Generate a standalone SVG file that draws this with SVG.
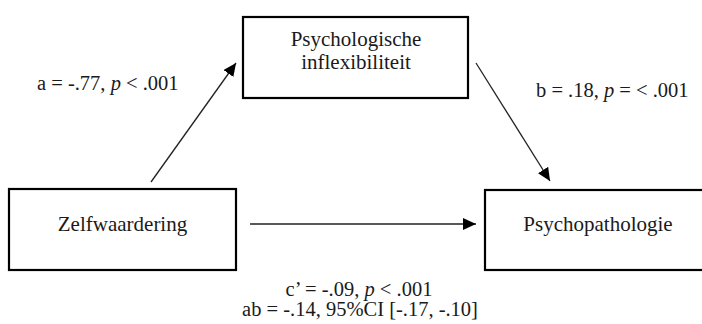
<svg xmlns="http://www.w3.org/2000/svg" width="702" height="324" viewBox="0 0 702 324">
  <style>
    .box { fill: #ffffff; stroke: #000000; stroke-width: 2.2; }
    .node-text { font-family: "Liberation Serif", "Times New Roman", serif; font-size: 21px; fill: #1a1a1a; text-anchor: middle; }
    .label { font-family: "Liberation Serif", "Times New Roman", serif; font-size: 20.5px; fill: #1a1a1a; }
    .conn { stroke: #222222; stroke-width: 1.3; fill: none; marker-end: url(#arrow); }
  </style>
  <defs>
    <marker id="arrow" markerUnits="userSpaceOnUse" markerWidth="14" markerHeight="12" viewBox="0 0 14 12" refX="13" refY="6" orient="auto">
      <path d="M0,0 L13,6 L0,12 Z" fill="#000000"/>
    </marker>
  </defs>
  <rect width="702" height="324" fill="#ffffff"/>

  <g id="connectors">
    <line class="conn" x1="151" y1="182" x2="236" y2="63"/>
    <line class="conn" x1="476" y1="63" x2="550" y2="181"/>
    <line class="conn" x1="250" y1="224" x2="476" y2="224"/>
  </g>

  <g id="node-inflexibiliteit">
    <rect class="box" x="243" y="17" width="225" height="81"/>
    <text class="node-text" x="356" y="46">Psychologische</text>
    <text class="node-text" x="356" y="69">inflexibiliteit</text>
  </g>

  <g id="node-zelfwaardering">
    <rect class="box" x="9" y="189" width="227" height="81"/>
    <text class="node-text" x="122.5" y="231">Zelfwaardering</text>
  </g>

  <g id="node-psychopathologie">
    <rect class="box" x="485" y="190" width="226" height="80"/>
    <text class="node-text" x="598" y="231">Psychopathologie</text>
  </g>

  <g id="labels">
    <text class="label" x="37" y="90">a = -.77, <tspan font-style="italic">p</tspan> &lt; .001</text>
    <text class="label" x="536" y="97">b = .18, <tspan font-style="italic">p</tspan> = &lt; .001</text>
    <text class="label" x="359" y="296" text-anchor="middle">c’ = -.09, <tspan font-style="italic">p</tspan> &lt; .001</text>
    <text class="label" x="360" y="316" text-anchor="middle">ab = -.14, 95%CI [-.17, -.10]</text>
  </g>
</svg>
